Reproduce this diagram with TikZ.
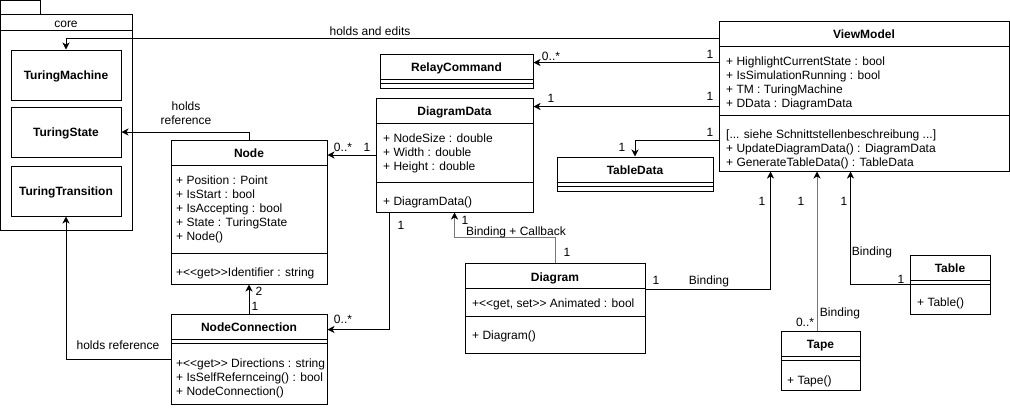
\documentclass[tikz,border=0pt]{standalone}
\usepackage{fontspec}
\setmainfont{Liberation Sans}
\usetikzlibrary{arrows.meta,calc}
\definecolor{lgray}{RGB}{120,120,120}
\begin{document}
\begin{tikzpicture}[x=1pt,y=-1pt,
  box/.style={draw, line width=1pt, inner sep=0pt, rectangle},
  ttl/.style={font=\bfseries\fontsize{12}{14}\selectfont, inner sep=0pt, text height=8.6pt, text depth=0pt},
  lbl/.style={font=\fontsize{12}{14}\selectfont, inner sep=0pt, text height=8.6pt, text depth=0pt},
  txt/.style={font=\fontsize{12}{14}\selectfont, align=left, anchor=north west, inner sep=0pt},
  sepline/.style={line width=1pt},
  conn/.style={line width=1pt, -{Stealth[length=7pt,width=7pt,inset=2pt]}},
  grayconn/.style={line width=1pt, draw=lgray, -{Stealth[length=7pt,width=7pt,inset=2pt,color=black]}},
]
\useasboundingbox (0,0) rectangle (1010,408);

% ---------------- package core ----------------
\node[box, minimum width=39.5pt, minimum height=13.5pt] (coretab) at (20.25,7.25) {};
\node[box, minimum width=131.5pt, minimum height=216pt] (core) at (66.25,122) {};
\draw[sepline] ($(core.north west)+(0,17)$) -- ($(core.north east)+(0,17)$);
\node[lbl] (coretitle) at (66,23) {core};
\node[box, minimum width=110pt, minimum height=50pt] (tm) at (66,75) {};
\node[ttl] (tmt) at (66,75) {TuringMachine};
\node[box, minimum width=110pt, minimum height=50pt] (ts) at (66,132) {};
\node[ttl] (tst) at (66,132) {TuringState};
\node[box, minimum width=110pt, minimum height=50pt] (tt) at (66,191) {};
\node[ttl] (ttt) at (66,191) {TuringTransition};

% ---------------- ViewModel ----------------
\node[box, minimum width=290pt, minimum height=150pt] (vm) at (864,96) {};
\node[ttl] (vmt) at (864,34) {ViewModel};
\draw[sepline] ($(vm.north west)+(0,26)$) -- ($(vm.north east)+(0,26)$);
\node[txt] (vma) at (726,55.5) {\strut+ HighlightCurrentState : bool\\+ IsSimulationRunning : bool\\+ TM : TuringMachine\\+ DData : DiagramData};
\draw[sepline] ($(vm.north west)+(0,95)$) -- ($(vm.north east)+(0,95)$);
\node[txt] (vmm) at (726,128) {\strut[... siehe Schnittstellenbeschreibung ...]\\+ UpdateDiagramData() : DiagramData\\+ GenerateTableData() : TableData};

% ---------------- RelayCommand ----------------
\node[box, minimum width=153pt, minimum height=34pt] (rc) at (456.5,71) {};
\node[ttl] (rct) at (456.5,67) {RelayCommand};
\draw[sepline] ($(rc.north west)+(0,26)$) -- ($(rc.north east)+(0,26)$);
\draw[sepline] ($(rc.north west)+(0,30)$) -- ($(rc.north east)+(0,30)$);

% ---------------- DiagramData ----------------
\node[box, minimum width=157pt, minimum height=114pt] (dd) at (454.5,155) {};
\node[ttl] (ddt) at (454.5,111) {DiagramData};
\draw[sepline] ($(dd.north west)+(0,26)$) -- ($(dd.north east)+(0,26)$);
\node[txt] (dda) at (383,132.5) {\strut+ NodeSize : double\\+ Width : double\\+ Height : double};
\draw[sepline] ($(dd.north west)+(0,85)$) -- ($(dd.north east)+(0,85)$);
\node[txt] (ddm) at (383,195) {\strut+ DiagramData()};

% ---------------- TableData ----------------
\node[box, minimum width=156pt, minimum height=34pt] (td) at (635,174) {};
\node[ttl] (tdt) at (635,170) {TableData};
\draw[sepline] ($(td.north west)+(0,26)$) -- ($(td.north east)+(0,26)$);
\draw[sepline] ($(td.north west)+(0,30)$) -- ($(td.north east)+(0,30)$);

% ---------------- Node ----------------
\node[box, minimum width=156pt, minimum height=144pt] (nd) at (249,212) {};
\node[ttl] (ndt) at (249,153) {Node};
\draw[sepline] ($(nd.north west)+(0,26)$) -- ($(nd.north east)+(0,26)$);
\node[txt] (nda) at (176,174.5) {\strut+ Position : Point\\+ IsStart : bool\\+ IsAccepting : bool\\+ State : TuringState\\+ Node()};
\draw[sepline] ($(nd.north west)+(0,114)$) -- ($(nd.north east)+(0,114)$);
\node[txt] (ndm) at (176,266.5) {\strut+{<}{<}get{>}{>}Identifier : string};

% ---------------- NodeConnection ----------------
\node[box, minimum width=156pt, minimum height=90pt] (nc) at (249,359) {};
\node[ttl] (nct) at (249,327) {NodeConnection};
\draw[sepline] ($(nc.north west)+(0,26)$) -- ($(nc.north east)+(0,26)$);
\draw[sepline] ($(nc.north west)+(0,30)$) -- ($(nc.north east)+(0,30)$);
\node[txt] (ncm) at (176,357) {\strut+{<}{<}get{>}{>} Directions : string\\+ IsSelfRefernceing() : bool\\+ NodeConnection()};

% ---------------- Diagram ----------------
\node[box, minimum width=180pt, minimum height=90pt] (dg) at (555,308) {};
\node[ttl] (dgt) at (555,277) {Diagram};
\draw[sepline] ($(dg.north west)+(0,26)$) -- ($(dg.north east)+(0,26)$);
\node[txt] (dga) at (472,297.5) {\strut+{<}{<}get, set{>}{>} Animated : bool};
\draw[sepline] ($(dg.north west)+(0,54)$) -- ($(dg.north east)+(0,54)$);
\node[txt] (dgm) at (472,329.5) {\strut+ Diagram()};

% ---------------- Tape ----------------
\node[box, minimum width=79pt, minimum height=59pt] (tp) at (820.5,360.5) {};
\node[ttl] (tpt) at (820.5,344) {Tape};
\draw[sepline] ($(tp.north west)+(0,26)$) -- ($(tp.north east)+(0,26)$);
\draw[sepline] ($(tp.north west)+(0,30)$) -- ($(tp.north east)+(0,30)$);
\node[txt] (tpm) at (787,374.5) {\strut+ Tape()};

% ---------------- Table ----------------
\node[box, minimum width=80pt, minimum height=59pt] (tb) at (950,284.5) {};
\node[ttl] (tbt) at (950,268) {Table};
\draw[sepline] ($(tb.north west)+(0,26)$) -- ($(tb.north east)+(0,26)$);
\draw[sepline] ($(tb.north west)+(0,30)$) -- ($(tb.north east)+(0,30)$);
\node[txt] (tbm) at (917,296.5) {\strut+ Table()};

% ---------------- connectors ----------------
\coordinate (vmA) at ($(vm.north west)+(0,18)$);
\draw[conn] (vmA) -| (tm.north);
\node[lbl] (l1) at (370,31) {holds and edits};

\coordinate (vmB) at ($(vm.north west)+(0,42)$);
\draw[conn] (vmB) -- (rc.east |- vmB);
\node[lbl] (l2) at (551,56) {0..*};
\node[lbl] (l3) at (710,54) {1};

\coordinate (vmC) at ($(vm.north west)+(0,86)$);
\draw[conn] (vmC) -- (dd.east |- vmC);
\node[lbl] (l4) at (551,98) {1};
\node[lbl] (l5) at (710,96) {1};

\coordinate (vmD) at ($(vm.north west)+(0,120)$);
\draw[conn] (vmD) -| (td.north);
\node[lbl] (l6) at (622,147) {1};
\node[lbl] (l7) at (710,132) {1};

\draw[conn] (nd.north) |- (ts.east);
\node[font=\fontsize{12}{14}\selectfont, align=center, inner sep=0pt] (l8) at (186,113) {holds\\reference};

\draw[conn] (dd.west) -- (nd.east |- dd.west);
\node[lbl] (l9) at (343,147) {0..*};
\node[lbl] (l10) at (367,147) {1};

\draw[conn] (nc.north) -- (nd.south);
\node[lbl] (l11) at (259,291) {2};
\node[lbl] (l12) at (255,306) {1};

\draw[conn] (nc.west) -| (tt.south);
\node[lbl] (l13) at (118,345) {holds reference};

\coordinate (ddS) at ($(dd.south west)+(14,0)$);
\coordinate (ncE) at ($(nc.north east)+(0,16)$);
\draw[conn] (ddS) |- (ncE);
\node[lbl] (l14) at (401,225) {1};
\node[lbl] (l15) at (343,319) {0..*};

\coordinate (ddS2) at ($(dd.south west)+(79,0)$);
\draw[grayconn] (dg.north) -- ++(0,-25) -| (ddS2);
\node[lbl] (l16) at (516,231) {Binding + Callback};
\node[lbl] (l17) at (465,220) {1};
\node[lbl] (l18) at (567,252) {1};

\coordinate (dgE) at ($(dg.north east)+(0,27)$);
\coordinate (vmS1) at ($(vm.south west)+(52,0)$);
\draw[conn] (dgE) -| (vmS1);
\node[lbl] (l19) at (656,280) {1};
\node[lbl] (l20) at (709,280) {Binding};
\node[lbl] (l21) at (762,201) {1};

\coordinate (tpN) at ($(tp.north)+(-3.5,0)$);
\draw[grayconn] (tpN) -- (vm.south -| tpN);
\node[lbl] (l22) at (805,322) {0..*};
\node[lbl] (l23) at (840,312) {Binding};
\node[lbl] (l24) at (801,201) {1};

\coordinate (vmS3) at ($(vm.south west)+(132,0)$);
\draw[conn] (tb.west) -| (vmS3);
\node[lbl] (l25) at (901,279) {1};
\node[lbl] (l26) at (872,251) {Binding};
\node[lbl] (l27) at (844,201) {1};
\end{tikzpicture}
\end{document}
